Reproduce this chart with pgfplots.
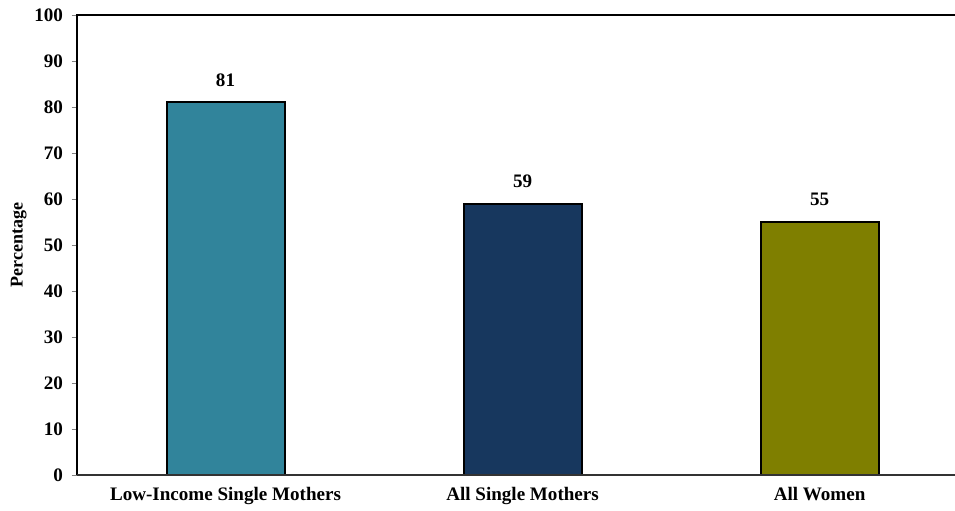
\documentclass[border=0pt]{standalone}
\usepackage{pgfplots}
\pgfplotsset{compat=1.18}
\usepackage{fontspec}
\setmainfont{Liberation Serif}

\definecolor{barteal}{HTML}{31849B}
\definecolor{barnavy}{HTML}{17375E}
\definecolor{barolive}{HTML}{7F7F00}

\begin{document}
\begin{tikzpicture}[x=1pt,y=1pt]
    \begin{axis}[
            at={(0,0)},
            anchor=south west,
            scale only axis,
            width=658.5pt,
            height=345pt,
            ymin=0, ymax=100,
            ytick={0,10,...,100},
            xmin=-0.5, xmax=2.456,
            xtick={0,1,2},
            xticklabels={Low-Income Single Mothers, All Single Mothers, All Women},
            axis line style={draw=none},
            ytick style={draw=gray, line width=0.6pt},
            xtick style={draw=none},
            tick align=outside,
            major tick length=4pt,
            ylabel={Percentage},
            ylabel style={font=\fontsize{13.5}{15}\selectfont\bfseries, yshift=-1pt},
            every tick label/.append style={font=\fontsize{14.3}{16}\selectfont\bfseries},
            /pgf/number format/assume math mode=true,
            yticklabel style={xshift=-3pt},
            xticklabel style={yshift=-2pt},
            ybar,
            bar width=88.5pt,
            bar shift=0pt,
            nodes near coords,
            nodes near coords style={font=\fontsize{14.3}{16}\selectfont\bfseries, yshift=8pt},
            clip=false
        ]
        % shares, percent
        \addplot[fill=barteal, draw=black, line width=1.5pt] coordinates {(0,81)};
        \addplot[fill=barnavy, draw=black, line width=1.5pt] coordinates {(1,59)};
        \addplot[fill=barolive, draw=black, line width=1.5pt] coordinates {(2,55)};

        \draw[black, line width=1.3pt] (rel axis cs:0,0) -- (rel axis cs:0,1) -- (rel axis cs:1,1);
        \draw[black!80, line width=1pt] (rel axis cs:0,0) -- (rel axis cs:1,0);
    \end{axis}
    \pgfresetboundingbox
    \path (-57.75pt,-26.25pt) rectangle (658.5pt,356.25pt);
\end{tikzpicture}
\end{document}
